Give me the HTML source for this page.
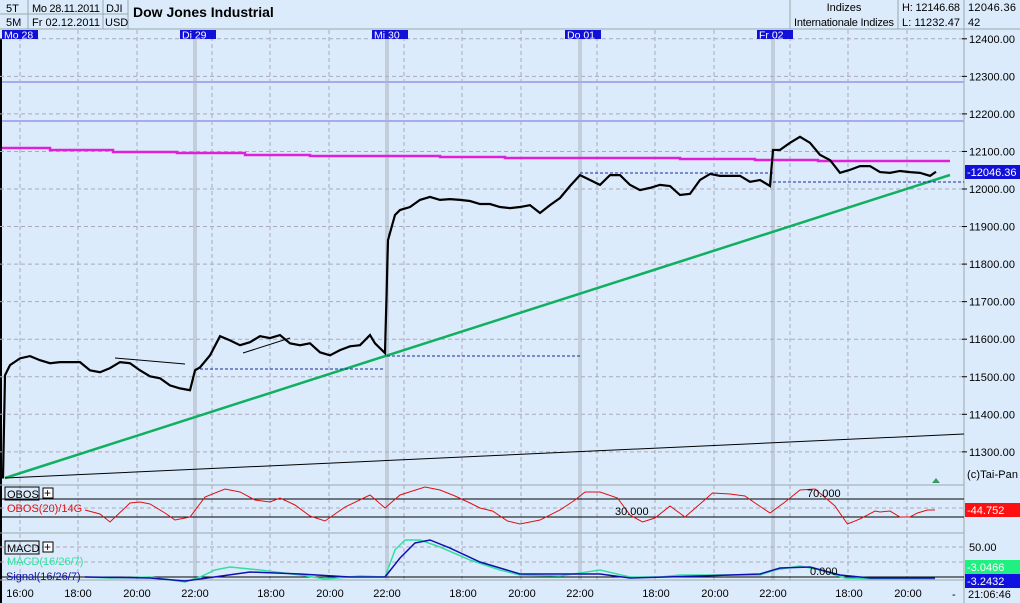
<!DOCTYPE html>
<html><head><meta charset="utf-8"><style>
body{margin:0;background:#dcebfb;}
svg{display:block;font-family:"Liberation Sans",sans-serif;}
</style></head><body>
<svg id="c" width="1020" height="603">
<rect x="0" y="0" width="1020" height="603" fill="#dcebfb"/>
<g id="hdr" font-size="11" fill="#000">
 <line x1="0" y1="14" x2="128" y2="14" stroke="#9aa" />
 <line x1="0" y1="29" x2="1020" y2="29" stroke="#9aa"/>
 <line x1="28" y1="0" x2="28" y2="29" stroke="#9aa"/>
 <line x1="103" y1="0" x2="103" y2="29" stroke="#9aa"/>
 <line x1="128" y1="0" x2="128" y2="29" stroke="#9aa"/>
 <line x1="790" y1="0" x2="790" y2="29" stroke="#9aa"/>
 <line x1="898" y1="0" x2="898" y2="29" stroke="#9aa"/>
 <line x1="964" y1="0" x2="964" y2="29" stroke="#9aa"/>
 <text x="6" y="12">5T</text><text x="6" y="26">5M</text>
 <text x="32" y="12" textLength="68">Mo 28.11.2011</text><text x="32" y="26" textLength="68">Fr 02.12.2011</text>
 <text x="106" y="12">DJI</text><text x="105" y="26">USD</text>
 <text x="133" y="17" font-size="14" font-weight="bold">Dow Jones Industrial</text>
 <text x="844" y="11" text-anchor="middle">Indizes</text>
 <text x="844" y="26" text-anchor="middle" textLength="100">Internationale Indizes</text>
 <text x="902" y="11" textLength="58">H: 12146.68</text><text x="902" y="26" textLength="58">L: 11232.47</text>
 <text x="968" y="11" textLength="48">12046.36</text><text x="968" y="26">42</text>
</g>
<g id="grid"></g>
<g id="main"></g>
<g id="axis" font-size="11"></g>
</svg>
<script>
// ---- data ----
const priceBars=[1.2,2,4,8,12,16,20,24,28,32,36,40,44,48,52,56,60,64,68,72,76,78,80,84,88,92,96,100,104,108,112,116,120,124,128,132,136,140,144,148,150,154,155.2,158,160,164,168,172,176,180,184,188,192,196,200,204,208,212,216,220,224,228,232,236,240,244,248,252,256,260,264,268,272,276,280,284,288,292,296,300,304,308,309.2,312,316,320,324,328,332,336,340,344,348,352,356,360,364,368,372,374.4];
const priceVals=[11229,11504,11531,11549,11555,11544,11536,11539,11539,11539,11517,11512,11523,11539,11536,11517,11501,11496,11477,11469,11464,11517,11525,11557,11608,11597,11584,11592,11608,11603,11611,11589,11584,11589,11565,11557,11571,11581,11584,11611,11589,11563,11864,11931,11944,11952,11971,11979,11971,11973,11971,11968,11960,11960,11952,11949,11952,11957,11936,11957,11976,12008,12037,12024,12011,12037,12037,12011,11997,12003,12011,12008,11984,11987,12024,12040,12035,12035,12035,12019,12024,12008,12104,12104,12123,12139,12123,12091,12077,12043,12051,12061,12061,12045,12043,12048,12045,12043,12035,12046];
const priceTicks=[12400,12300,12200,12100,12000,11900,11800,11700,11600,11500,11400,11300];
const obosBars=[34,40,44,52,56,60,66,70,76,82,90,96,102,108,112,118,124,130,138,148,154,160,170,176,182,188,192,197,203,208,216,224,230,234,240,247,252,257,262,268,274,280,285,292,298,302,308,314,320,326,334,339,344,350,352,356,360,364,367,371,374];
const obosVals=[45.6,36.7,18.9,61.1,63.3,58.9,38.9,23.3,30,74.4,92.2,85.6,67.8,63.3,72.2,56.7,32.2,21.1,52.2,78.9,50,78.9,96.7,90,76.7,61.1,50,43.3,21.1,14.4,23.3,45.6,67.8,85.6,85.6,72.2,34.4,18.9,27.8,54.4,30,58.9,83.3,81.1,76.7,61.1,38.9,63.3,90,92.2,54.4,14.4,25.6,43.3,41.1,43.3,30,30,38.9,45.6,45.6];
const macdBars=[34,44,60,74,80,86,92,104,120,130,144,154,158,162,168,176,188,200,208,224,240,252,264,272,280,304,310,320,328,338,352,374];
const macdVals=[0,-1.7,0,-8.3,0,11.7,16.7,11.7,3.3,-3.3,1.7,0,45,61.7,61.7,50,28.3,11.7,3.3,1.7,11.7,0,0,3.3,3.3,3.3,11.7,18.3,11.7,-1.7,-3.3,-3.3];
const sigBars=[34,60,74,80,100,120,140,154,160,166,172,180,192,208,240,252,280,304,312,324,336,348,374];
const sigVals=[0,-1.7,-6.7,-3.3,8.3,5,0,0,31.7,56.7,61.7,48.3,25,5,5,-1.7,1.7,5,15,16.7,3.3,-1.7,-1.7];
const dayLabels=["Mo 28","Di 29","Mi 30","Do 01","Fr 02"];
const timeLabels=["16:00","18:00","20:00","22:00","18:00","20:00","22:00","18:00","20:00","22:00","18:00","20:00","22:00","18:00","20:00"];

// ---- scales ----
const NS="http://www.w3.org/2000/svg";
const X=t=>t*2.5;
const Y=p=>189-(p-12000)*0.3755;
const YO=v=>517-(v-30)*0.45;
const YM=v=>577-v*0.6;
function mk(tag,attrs,parent){const e=document.createElementNS(NS,tag);for(const k in attrs)e.setAttribute(k,attrs[k]);parent.appendChild(e);return e;}
const grid=document.getElementById('grid'),main=document.getElementById('main'),axis=document.getElementById('axis');

mk('line',{x1:1,y1:38,x2:1,y2:603,stroke:'#000','stroke-width':2},grid);
mk('line',{x1:964,y1:29,x2:964,y2:603,stroke:'#9aa'},grid);
[485,533,580].forEach(y=>{mk('line',{x1:0,y1:y,x2:964,y2:y,stroke:'#9aa'},grid);});
priceTicks.forEach(p=>{mk('line',{x1:0,y1:Y(p),x2:964,y2:Y(p),stroke:'#aab','stroke-dasharray':'4,3'},grid);});
[508].forEach(y=>mk('line',{x1:0,y1:y,x2:964,y2:y,stroke:'#aab','stroke-dasharray':'4,3'},grid));
[547,562].forEach(y=>mk('line',{x1:0,y1:y,x2:964,y2:y,stroke:'#aab','stroke-dasharray':'4,3'},grid));
const dayStart=[2,195,387,580,773];
const tickX=[];
dayStart.forEach((s,i)=>{
 if(i>0){mk('line',{x1:s-1,y1:30,x2:s-1,y2:580,stroke:'#a8b0bc','stroke-width':1},grid);
         mk('line',{x1:s+1,y1:30,x2:s+1,y2:580,stroke:'#a8b0bc','stroke-width':1},grid);}
 const offs=i==0?[18,76,135]:[17,75,134];
 offs.forEach(o=>{if(s+o<964)mk('line',{x1:s+o,y1:30,x2:s+o,y2:580,stroke:'#aab','stroke-dasharray':'4,3'},grid);});
 if(i==0)tickX.push(20);
 tickX.push(s+76,s+135);
 if(i<4)tickX.push(dayStart[i+1]);
});
dayLabels.forEach((d,i)=>{
 const x=[2,180,372,565,757][i];
 const r=mk('rect',{x:x,y:30,width:36,height:9,fill:'#1010d8'},grid);
 
 
 const t=mk('text',{x:x+2,y:38.5,fill:'#fff','font-size':10.5},grid);t.textContent=d;
});
mk('line',{x1:2,y1:82,x2:964,y2:82,stroke:'#a9a9ee','stroke-width':2},main);
mk('line',{x1:2,y1:121,x2:964,y2:121,stroke:'#a9a9ee','stroke-width':2},main);
const mag=mk('polyline',{points:'2,148 50,148 50,150 113,150 113,152 177,152 177,153 245,153 245,155 310,155 310,156 440,156 440,157 505,157 505,158 680,158 680,159 755,159 755,160 818,160 818,161 950,161',fill:'none',stroke:'#e020d8','stroke-width':2.5},main);


const gr=mk('line',{x1:5,y1:478,x2:950,y2:175,stroke:'#10b060','stroke-width':2.5},main);


mk('line',{x1:5,y1:478,x2:964,y2:434,stroke:'#000','stroke-width':1},main);
[[195,385,369],[387,580,356],[580,773,173],[773,964,182]].forEach(a=>{
 mk('line',{x1:a[0],y1:a[2],x2:a[1],y2:a[2],stroke:'#1a2aa0','stroke-dasharray':'3,2'},main);
});
mk('line',{x1:115,y1:358,x2:185,y2:364,stroke:'#000'},main);
mk('line',{x1:243,y1:353,x2:290,y2:338,stroke:'#000'},main);
const pp=mk('polyline',{points:priceBars.map((t,i)=>X(t)+','+Y(priceVals[i])).join(' '),fill:'none',stroke:'#000','stroke-width':2.2,'stroke-linejoin':'miter'},main);


mk('line',{x1:0,y1:YO(70),x2:964,y2:YO(70),stroke:'#000'},main);
mk('line',{x1:0,y1:YO(30),x2:964,y2:YO(30),stroke:'#000'},main);
const ob=mk('polyline',{points:obosBars.map((t,i)=>X(t)+','+YO(obosVals[i])).join(' '),fill:'none',stroke:'#e01010','stroke-width':1},main);


mk('line',{x1:0,y1:YM(0),x2:964,y2:YM(0),stroke:'#000'},main);
const mc=mk('polyline',{points:macdBars.map((t,i)=>X(t)+','+YM(macdVals[i])).join(' '),fill:'none',stroke:'#30e0a0','stroke-width':1.5},main);


const sg=mk('polyline',{points:sigBars.map((t,i)=>X(t)+','+YM(sigVals[i])).join(' '),fill:'none',stroke:'#1010b0','stroke-width':1.5},main);


priceTicks.forEach(p=>{const t=mk('text',{x:969,y:Y(p)+4,textLength:46},axis);t.textContent=p.toFixed(2);
 mk('line',{x1:962,y1:Y(p),x2:967,y2:Y(p),stroke:'#000'},axis);});
function box(x,y,w,fill,txt,col,name){const r=mk('rect',{x:x,y:y,width:w,height:14,fill:fill},axis);
 
 
 const t=mk('text',{x:x+2,y:y+11,fill:col},axis);t.textContent=txt;}
box(965,165,55,'#1010d8','-12046.36','#fff','last-price-box');
box(965,503,55,'#ff1010','-44.752','#fff','obos-value-box');
box(965,560,55,'#20f080','-3.0466','#fff','macd-value-box');
box(965,574,55,'#1010e0','-3.2432','#fff','signal-value-box');
let t;
t=mk('text',{x:967,y:478,textLength:51},axis);t.textContent='(c)Tai-Pan';
t=mk('text',{x:969,y:551},axis);t.textContent='50.00';
t=mk('text',{x:968,y:598},axis);t.textContent='21:06:46';
t=mk('text',{x:952,y:598},axis);t.textContent='-';
mk('polygon',{points:'932,483 940,483 936,478',fill:'#30a060'},axis);
timeLabels.forEach((l,i)=>{const tx=mk('text',{x:tickX[i],y:597,'text-anchor':'middle'},axis);tx.textContent=l;});
function lbl(x,y,txt,col,fs){const e=mk('text',{x:x,y:y,fill:col,'font-size':fs||11},axis);e.textContent=txt;return e;}
mk('rect',{x:5,y:487,width:34,height:13,fill:'none',stroke:'#000'},axis);lbl(7,498,'OBOS','#000');
mk('rect',{x:43,y:488,width:10,height:10,fill:'#fff',stroke:'#000'},axis);lbl(44,497,'+','#000',12);
lbl(7,512,'OBOS(20)/14G','#e01010');
lbl(615,515,'30.000','#000');lbl(807,497,'70.000','#000');lbl(810,575,'0.000','#000');
mk('rect',{x:5,y:541,width:34,height:13,fill:'none',stroke:'#000'},axis);lbl(7,552,'MACD','#000');
mk('rect',{x:43,y:542,width:10,height:10,fill:'#fff',stroke:'#000'},axis);lbl(44,551,'+','#000',12);
lbl(7,565,'MACD(16/26/7)','#30e0a0');lbl(6,580,'Signal(16/26/7)','#1010b0');
</script>
</body></html>
